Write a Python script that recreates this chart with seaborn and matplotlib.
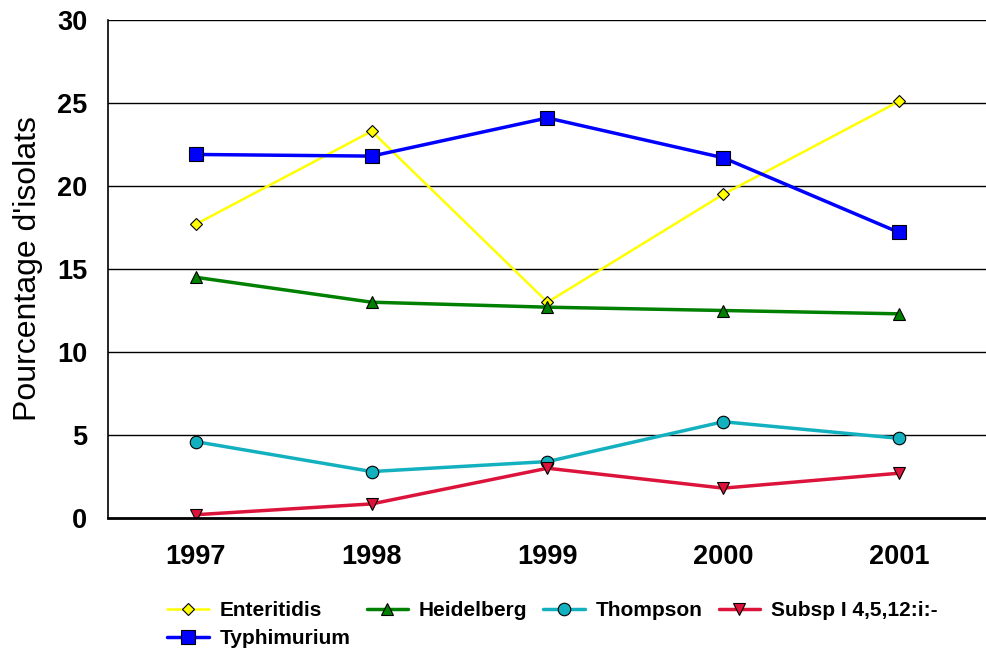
import pandas as pd
import matplotlib
matplotlib.use('Agg')
import matplotlib.pyplot as plt
import seaborn as sns

# data
years = ['1997', '1998', '1999', '2000', '2001']
enteritidis = [17.7, 23.3, 13.0, 19.5, 25.1]
heidelberg = [14.5, 13.0, 12.7, 12.5, 12.3]
thompson = [4.6, 2.8, 3.4, 5.8, 4.8]
subsp = [0.2, 0.85, 3.0, 1.8, 2.7]
typhimurium = [21.9, 21.8, 24.1, 21.7, 17.2]

series = {
    'Enteritidis': enteritidis,
    'Heidelberg': heidelberg,
    'Thompson': thompson,
    'Subsp I 4,5,12:i:-': subsp,
    'Typhimurium': typhimurium,
}
rows = []
for name, vals in series.items():
    for yr, v in zip(years, vals):
        rows.append({'annee': yr, 'pct': v, 'serotype': name})
df = pd.DataFrame(rows)

colors = {'Enteritidis': '#FFFF00', 'Heidelberg': '#008000', 'Thompson': '#13B1C0',
          'Subsp I 4,5,12:i:-': '#DC143C', 'Typhimurium': '#0000FF'}
markers = {'Enteritidis': 'D', 'Heidelberg': '^', 'Thompson': 'o',
           'Subsp I 4,5,12:i:-': 'v', 'Typhimurium': 's'}
msize = {'Enteritidis': 6.5, 'Heidelberg': 8, 'Thompson': 9,
         'Subsp I 4,5,12:i:-': 8.5, 'Typhimurium': 10}
lw = {'Enteritidis': 1.8, 'Heidelberg': 2.5, 'Thompson': 2.5,
      'Subsp I 4,5,12:i:-': 2.5, 'Typhimurium': 2.5}

sns.set_style('white')
plt.rcParams['font.family'] = ['Liberation Sans', 'DejaVu Sans']
plt.rcParams['text.color'] = 'black'
plt.rcParams['axes.labelcolor'] = 'black'
plt.rcParams['xtick.color'] = 'black'
plt.rcParams['ytick.color'] = 'black'

fig = plt.figure(figsize=(9.87, 6.53), dpi=100)
ax = fig.add_axes([0.1094, 0.2067, 0.8906, 0.7627])

for name in series:
    sub = df[df['serotype'] == name]
    sns.lineplot(data=sub, x='annee', y='pct', ax=ax, color=colors[name],
                 marker=markers[name], markersize=msize[name], linewidth=lw[name],
                 markeredgecolor='black', markeredgewidth=0.8, label=name, sort=False)

ax.set_xlim(-0.5, 4.5)
ax.set_ylim(0, 30)
ax.set_yticks([0, 5, 10, 15, 20, 25, 30])
for y in [5, 10, 15, 20, 25, 30]:
    ax.axhline(y, color='black', linewidth=1.0, zorder=0)
ax.set_xlabel('')
ax.set_ylabel("Pourcentage d'isolats", fontsize=23, labelpad=10)
ax.tick_params(axis='both', length=0, labelsize=19.5)
for lab in ax.get_xticklabels() + ax.get_yticklabels():
    lab.set_fontweight('bold')
ax.tick_params(axis='x', pad=19)
ax.tick_params(axis='y', pad=15)

for s in ['top', 'right']:
    ax.spines[s].set_visible(False)
ax.spines['left'].set_color('black')
ax.spines['left'].set_linewidth(1.2)
ax.spines['bottom'].set_color('black')
ax.spines['bottom'].set_linewidth(2)

# legend: matplotlib fills columns first, so reorder to get row layout
handles, labels = ax.get_legend_handles_labels()
order = [0, 4, 1, 2, 3]
ax.legend([handles[i] for i in order], [labels[i] for i in order],
          ncol=4, loc='upper left', bbox_to_anchor=(0.058, -0.15),
          frameon=False, prop={'weight': 'bold', 'size': 15},
          handlelength=2.0, handletextpad=0.5, columnspacing=0.78,
          labelspacing=0.45, borderaxespad=0)

fig.savefig('out.png', dpi=100)
